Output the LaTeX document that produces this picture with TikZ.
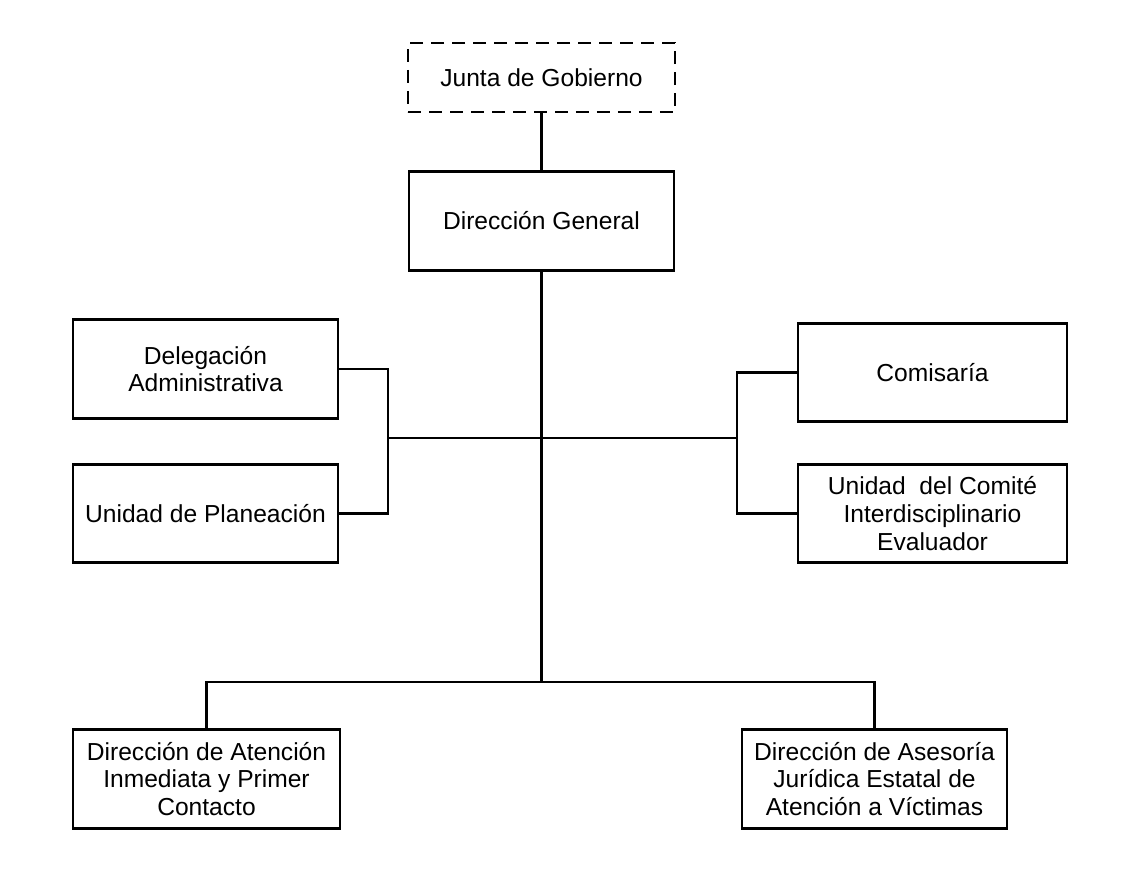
\documentclass[tikz,border=0pt]{standalone}
\usepackage{fontspec}
\setmainfont{Liberation Sans}

\begin{document}
\begin{tikzpicture}[x=0.02cm, y=-0.02cm,
		caja/.style={draw, line width=1.6pt, align=center, inner sep=2pt,
			minimum width=5.3cm, minimum height=1.97cm,
			font=\fontsize{14pt}{15.7pt}\selectfont},
		linea/.style={line width=1.4pt}]
	\useasboundingbox (0,0) rectangle (1139,876);
	
	\node[caja, dashed, dash pattern=on 0.26cm off 0.16cm, minimum width=5.34cm, minimum height=1.38cm] (JG) at (541.5,77.5) {Junta de Gobierno};
	\node[caja] (DG) at (541.5,221) {Dirección General};
	
	\node[caja] (DA) at (205.5,369) {Delegación\\Administrativa};
	\node[caja] (UP) at (205.5,513.5) {Unidad de Planeación};
	\node[caja, minimum width=5.38cm] (CO) at (932.5,372.5) {Comisaría};
	\node[caja, minimum width=5.38cm] (UC) at (932.5,513.5) {Unidad~ del Comité\\Interdisciplinario\\Evaluador};
	
	\node[caja, minimum width=5.34cm] (DAI) at (206.5,779) {Dirección de Atención\\Inmediata y Primer\\Contacto};
	\node[caja] (DAJ) at (874.5,779) {Dirección de Asesoría\\Jurídica Estatal de\\Atención a Víctimas};
	
	\coordinate (L) at (388,438);
	\coordinate (R) at (737,438);
	\coordinate (H) at (541.5,682);
	
	\draw[linea] (JG.south) -- (DG.north);
	\draw[linea] (DG.south) -- (H);
	\draw[linea] (L) -- (R);
	\draw[linea] (DA.east) -| (L) |- (UP.east);
	\draw[linea] (CO.west) -| (R) |- (UC.west);
	\draw[linea] (DAI.north) |- (H) -| (DAJ.north);
\end{tikzpicture}
\end{document}
